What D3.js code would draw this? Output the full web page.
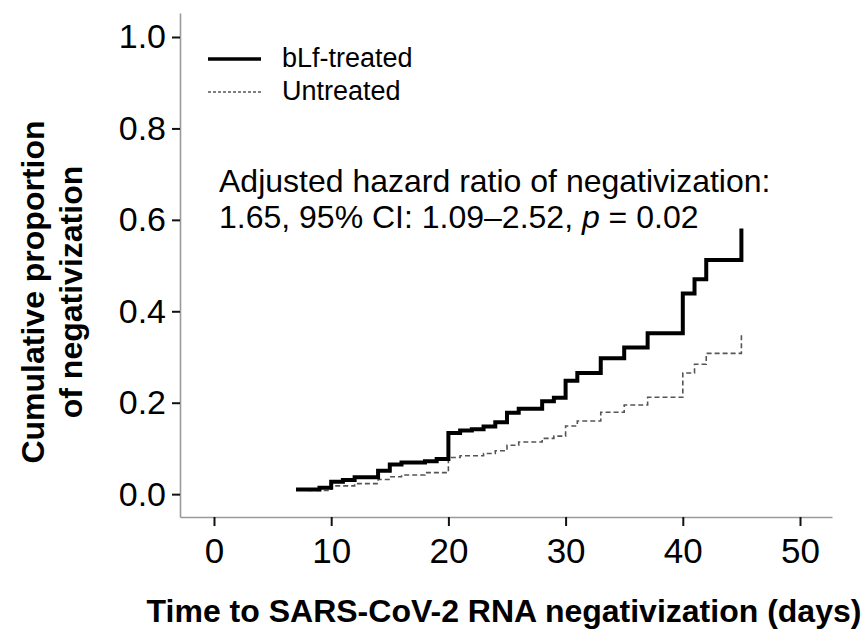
<!DOCTYPE html>
<html>
<head>
<meta charset="utf-8">
<script src="https://cdn.jsdelivr.net/npm/d3@7"></script>
<style>
    body { margin: 0; background: #fff; }
    svg { font-family: "Liberation Sans", Arial, sans-serif; }
</style>
</head>
<body>
<div id="chart-area"></div>
<script>
// values
var treatedDays   = [7, 9, 10, 11, 12, 14, 15, 16, 18, 19, 20, 21, 22, 23, 24, 25, 26, 28, 29, 30, 31, 33, 35, 37, 40, 41, 42, 45];
var treatedValues = [0.010, 0.014, 0.027, 0.031, 0.037, 0.051, 0.065, 0.069, 0.072, 0.077, 0.134, 0.139, 0.142, 0.148, 0.157, 0.178, 0.187, 0.203, 0.211, 0.248, 0.265, 0.297, 0.321, 0.352, 0.439, 0.470, 0.512, 0.581];

var untreatedDays   = [8, 10, 12, 14, 15, 16, 18, 20, 21, 23, 24, 25, 26, 28, 29, 30, 31, 33, 35, 37, 40, 41, 42, 45];
var untreatedValues = [0.008, 0.018, 0.023, 0.032, 0.038, 0.042, 0.047, 0.080, 0.084, 0.089, 0.095, 0.107, 0.114, 0.122, 0.127, 0.149, 0.160, 0.179, 0.195, 0.212, 0.265, 0.284, 0.308, 0.350];

var xTicks = [0, 10, 20, 30, 40, 50];
var yTicks = [0, 0.2, 0.4, 0.6, 0.8, 1.0];

var seriesNames = ["bLf-treated", "Untreated"];
var annotation = ["Adjusted hazard ratio of negativization:", "1.65, 95% CI: 1.09\u20132.52, "];

var width = 868, height = 634;

var svg = d3.select("#chart-area")
    .append("svg")
        .attr("width", width)
        .attr("height", height);

// axis lines run a little past the first/last ticks
var x = d3.scaleLinear()
    .domain([-2.9, 52.73])
    .range([180, 832]);

var y = d3.scaleLinear()
    .domain([-0.05, 1.0525])
    .range([517, 13]);

var x_axis = d3.axisBottom(x)
    .tickValues(xTicks)
    .tickFormat(d3.format("d"))
    .tickSizeInner(9)
    .tickSizeOuter(0)
    .tickPadding(12);

var y_axis = d3.axisLeft(y)
    .tickValues(yTicks)
    .tickFormat(d3.format(".1f"))
    .tickSizeInner(8)
    .tickSizeOuter(0)
    .tickPadding(6);

var gx = svg.append("g")
    .attr("class", "axis axis--x")
    .attr("transform", "translate(0," + y.range()[0] + ")")
    .call(x_axis);

var gy = svg.append("g")
    .attr("class", "axis axis--y")
    .attr("transform", "translate(" + x.range()[0] + ",0)")
    .call(y_axis);

[gx, gy].forEach(function(g){
    g.select(".domain")
        .attr("stroke", "#9a9a9a")
        .attr("stroke-width", 1.6);
    g.selectAll(".tick line")
        .attr("stroke", "#111")
        .attr("stroke-width", 2);
    g.selectAll(".tick text")
        .attr("fill", "#000")
        .attr("font-family", "'Liberation Sans', Arial, sans-serif");
});
gx.selectAll(".tick text").attr("font-size", 35);
gy.selectAll(".tick text").attr("font-size", 34);

// step curves
var line = d3.line()
    .x(function(d){ return x(d.day); })
    .y(function(d){ return y(d.value); })
    .curve(d3.curveStepAfter);

function toPoints(days, values){
    return days.map(function(d, i){ return { day: d, value: values[i] }; });
}

svg.append("path")
    .datum(toPoints(untreatedDays, untreatedValues))
    .attr("fill", "none")
    .attr("stroke", "#555")
    .attr("stroke-width", 1.6)
    .attr("stroke-dasharray", "5,3")
    .attr("d", line);

svg.append("path")
    .datum(toPoints(treatedDays, treatedValues))
    .attr("fill", "none")
    .attr("stroke", "#000")
    .attr("stroke-width", 4)
    .attr("stroke-linejoin", "miter")
    .attr("d", line);

// legend
var legend = svg.append("g").attr("transform", "translate(208,59)");
var legendStyles = [
    { stroke: "#000", width: 3.5, dash: null },
    { stroke: "#555", width: 1.4, dash: "3,2" }
];
seriesNames.forEach(function(name, i){
    var row = legend.append("g").attr("transform", "translate(0," + (i * 33) + ")");
    row.append("line")
        .attr("x1", 0).attr("x2", 53)
        .attr("stroke", legendStyles[i].stroke)
        .attr("stroke-width", legendStyles[i].width)
        .attr("stroke-dasharray", legendStyles[i].dash);
    row.append("text")
        .attr("x", 74)
        .attr("y", 8)
        .attr("font-size", 27)
        .text(name);
});

// annotation
var note = svg.append("text")
    .attr("x", 219)
    .attr("y", 192)
    .attr("font-size", 32);
note.append("tspan").text(annotation[0]);
var l2 = note.append("tspan").attr("x", 219).attr("dy", 36).text(annotation[1]);
note.append("tspan").attr("font-style", "italic").text("p");
note.append("tspan").text(" = 0.02");

// axis titles
svg.append("text")
    .attr("x", 504)
    .attr("y", 622)
    .attr("text-anchor", "middle")
    .attr("font-size", 32)
    .attr("font-weight", "bold")
    .text("Time to SARS-CoV-2 RNA negativization (days)");

var ytitle = svg.append("text")
    .attr("transform", "translate(44,292) rotate(-90)")
    .attr("text-anchor", "middle")
    .attr("font-size", 32)
    .attr("font-weight", "bold");
ytitle.append("tspan").attr("x", 0).attr("y", 0).text("Cumulative proportion");
ytitle.append("tspan").attr("x", 0).attr("y", 38).text("of negativization");
</script>
</body>
</html>
